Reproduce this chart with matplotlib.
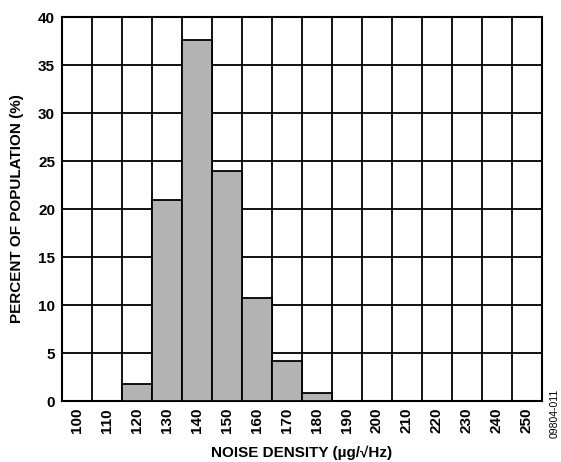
import numpy as np
import matplotlib.pyplot as plt

plt.rcParams['font.family'] = ['Liberation Sans', 'DejaVu Sans']

bins = [100, 110, 120, 130, 140, 150, 160, 170, 180, 190, 200, 210, 220, 230, 240, 250]
percent = [0, 0, 1.8, 20.9, 37.6, 24.0, 10.7, 4.2, 0.8, 0, 0, 0, 0, 0, 0, 0]

fig = plt.figure(figsize=(5.61, 4.62), dpi=100)
ax = fig.add_axes([0.1105, 0.132, 0.8556, 0.831])

x = np.arange(len(bins))
ax.bar(x, percent, width=1.0, color='#b3b3b3', edgecolor='black', linewidth=1.3, zorder=3)

ax.set_xlim(-0.5, len(bins) - 0.5)
ax.set_ylim(0, 40)
ax.set_xticks(x)
ax.set_xticklabels([str(b) for b in bins], rotation=90, fontsize=11, fontweight='bold')
ax.set_xticks(np.arange(-0.5, len(bins)), minor=True)
ax.set_yticks(np.arange(0, 41, 5))
ax.set_yticklabels([str(v) for v in range(0, 41, 5)], fontsize=11, fontweight='bold')
ax.tick_params(axis='both', which='both', length=0, pad=5)
ax.grid(axis='x', which='minor', color='black', linewidth=1.3, zorder=1)
ax.grid(axis='y', which='major', color='black', linewidth=1.3, zorder=1)
for s in ax.spines.values():
    s.set_linewidth(1.5)

ax.set_xlabel('NOISE DENSITY (µg/√Hz)', fontsize=11, fontweight='bold', labelpad=9)
ax.set_ylabel('PERCENT OF POPULATION (%)', fontsize=11, fontweight='bold', labelpad=10)

fig.text(0.998, 0.105, '09804-011', rotation=90, fontsize=7.5, ha='right', va='center')

fig.savefig('out.png', dpi=100)
